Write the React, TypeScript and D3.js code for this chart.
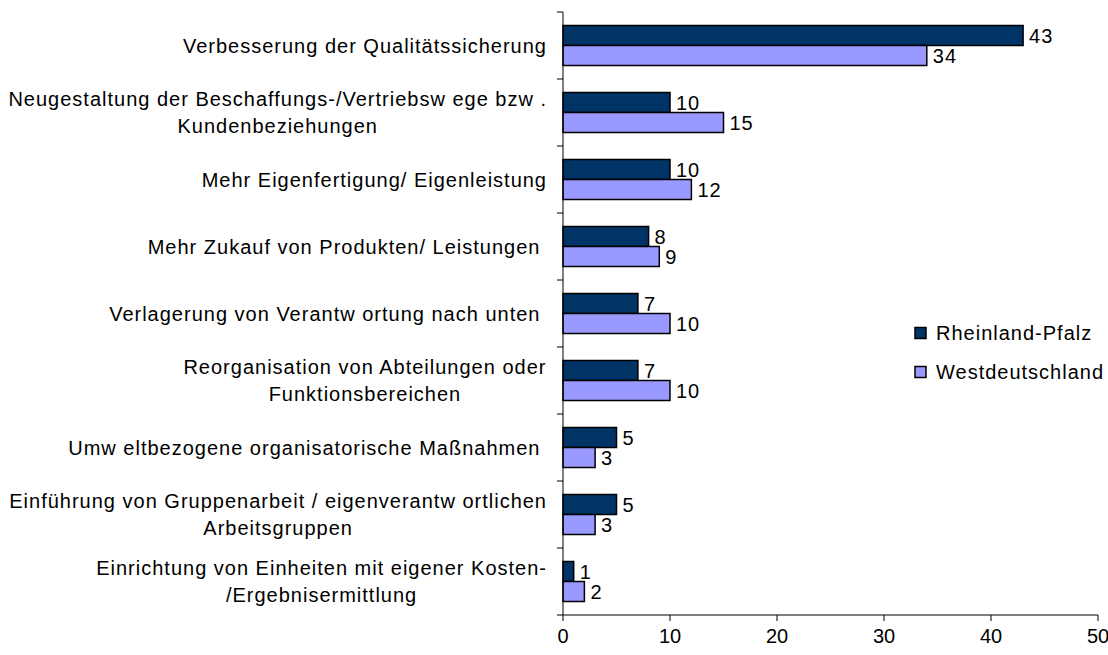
import React from "react";
import * as d3 from "d3";

// chart values
const categories = [
  ["Verbesserung der Qualitätssicherung"],
  ["Neugestaltung der Beschaffungs-/Vertriebsw ege bzw .", "Kundenbeziehungen"],
  ["Mehr Eigenfertigung/ Eigenleistung"],
  ["Mehr Zukauf von Produkten/ Leistungen "],
  ["Verlagerung von Verantw ortung nach unten "],
  ["Reorganisation von Abteilungen oder", "Funktionsbereichen"],
  ["Umw eltbezogene organisatorische Maßnahmen "],
  ["Einführung von Gruppenarbeit / eigenverantw ortlichen", "Arbeitsgruppen"],
  ["Einrichtung von Einheiten mit eigener Kosten-", "/Ergebnisermittlung"],
];
const seriesNames = ["Rheinland-Pfalz", "Westdeutschland"];
const rheinlandPfalz = [43, 10, 10, 8, 7, 7, 5, 5, 1];
const westdeutschland = [34, 15, 12, 9, 10, 10, 3, 3, 2];
const xTicks = [0, 10, 20, 30, 40, 50];

const colors = ["#003366", "#9999FF"];
const FONT = "Liberation Sans, Arial, sans-serif";
const FS = 20;
const LS = 1;

let ctx: CanvasRenderingContext2D | null = null;
function measure(t: string) {
  if (!ctx) ctx = document.createElement("canvas").getContext("2d");
  ctx!.font = `${FS}px ${FONT}`;
  return ctx!.measureText(t).width + t.length * LS;
}

export default function App() {
  const width = 1108;
  const height = 655;
  const left = 563;
  const top = 12;
  const bottom = 615;

  const x = d3.scaleLinear().domain([0, 50]).range([left, 1098]);
  const y = d3
    .scaleBand()
    .domain(categories.map((d, i) => String(i)))
    .range([top, bottom]);
  const inner = d3.scaleBand().domain(["0", "1"]).range([-20, 20]);
  const series = [rheinlandPfalz, westdeutschland];

  const labelRight = 547;
  const lineH = 27;

  return (
    <svg
      width={width}
      height={height}
      style={{ position: "absolute", left: 0, top: 0, fontFamily: FONT, letterSpacing: LS }}
    >
      <rect width={width} height={height} fill="#fff" />
      {/* bars */}
      {series.map((vals, s) =>
        vals.map((v, i) => {
          const cy = y(String(i))! + y.bandwidth() / 2;
          const by = cy + inner(String(s))!;
          return (
            <g key={`${s}-${i}`}>
              <rect
                x={x(0)}
                y={by}
                width={x(v) - x(0)}
                height={inner.bandwidth()}
                fill={colors[s]}
                stroke="#000"
                strokeWidth={1.5}
              />
              <text
                x={x(v) + 6}
                y={by + inner.bandwidth() / 2}
                dy="0.35em"
                fontSize={FS}
                fill="#000"
              >
                {v}
              </text>
            </g>
          );
        })
      )}
      {/* y axis */}
      <line x1={left} x2={left} y1={top} y2={bottom} stroke="#000" />
      {categories.map((d, i) => (
        <line
          key={"yt" + i}
          x1={left - 6}
          x2={left}
          y1={y(String(i))}
          y2={y(String(i))}
          stroke="#000"
        />
      ))}
      <line x1={left - 6} x2={left} y1={bottom} y2={bottom} stroke="#000" />
      {/* category labels */}
      {categories.map((lines, i) => {
        const cy = y(String(i))! + y.bandwidth() / 2;
        const maxW = Math.max(...lines.map(measure));
        const cx = labelRight - maxW / 2;
        const y0 = cy - ((lines.length - 1) * lineH) / 2;
        return (
          <text key={"cl" + i} fontSize={FS} textAnchor="middle" fill="#000">
            {lines.map((l, j) => (
              <tspan key={j} x={cx} y={y0 + j * lineH} dy="0.35em" style={{ whiteSpace: "pre" }}>
                {l}
              </tspan>
            ))}
          </text>
        );
      })}
      {/* x axis */}
      <line x1={left} x2={x(50)} y1={bottom} y2={bottom} stroke="#000" />
      {xTicks.map((t) => (
        <g key={"xt" + t}>
          <line x1={x(t)} x2={x(t)} y1={bottom} y2={bottom + 6} stroke="#000" />
          <text
            x={x(t)}
            y={636}
            dy="0.35em"
            textAnchor="middle"
            fontSize={FS}
            style={{ letterSpacing: 0 }}
          >
            {t}
          </text>
        </g>
      ))}
      {/* legend */}
      {seriesNames.map((n, s) => (
        <g key={n} transform={`translate(915, ${333 + s * 39})`}>
          <rect x={0} y={-5.5} width={11} height={11} fill={colors[s]} stroke="#000" strokeWidth={1.5} />
          <text x={21} y={0} dy="0.35em" fontSize={FS}>
            {n}
          </text>
        </g>
      ))}
    </svg>
  );
}
